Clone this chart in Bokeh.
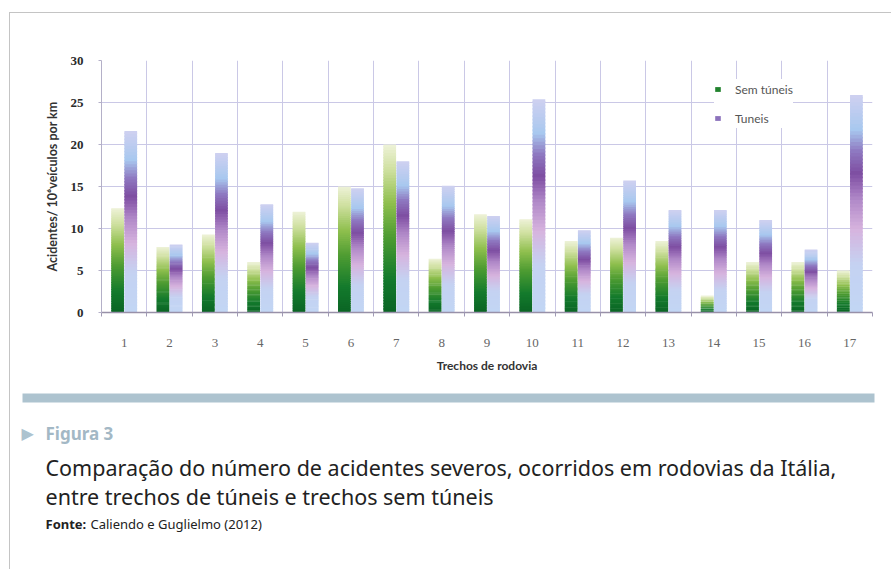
from bokeh.plotting import figure
from bokeh.layouts import column
from bokeh.models import (ColumnDataSource, Range1d, FixedTicker, Legend, LegendItem)
from bokeh.core.properties import value
from bokeh.embed import file_html
from bokeh.resources import INLINE

# ---------------- data ----------------
trechos = list(range(1, 18))
tick_labels = [str(t) for t in trechos]
sem_tuneis = [12.4, 7.8, 9.3, 6.0, 12.0, 15.0, 20.0, 6.4, 11.7, 11.1, 8.5, 8.9, 8.5, 2.0, 6.0, 6.0, 5.0]
tuneis = [21.6, 8.1, 19.0, 12.9, 8.3, 14.8, 18.0, 15.1, 11.5, 25.4, 9.8, 15.7, 12.2, 12.2, 11.0, 7.5, 25.9]
y_ticks = [0, 5, 10, 15, 20, 25, 30]
series_names = ["Sem túneis", "Tuneis"]
y_title = "Acidentes/ 10\u2076veículos por km"
x_title = "Trechos de rodovia"
fig_label = "Figura 3"
caption_lines = ["Comparação do número de acidentes severos, ocorridos em rodovias da Itália,",
                 "entre trechos de túneis e trechos sem túneis"]
source_label = "Fonte:"
source_text = "Caliendo e Guglielmo (2012)"

# ---------------- style ----------------
green_stops = [(0.0, "#0a6424"), (0.2, "#137a2c"), (0.45, "#4e9c32"), (0.65, "#8fbf4e"),
               (0.85, "#cfe0a0"), (1.0, "#eef2d8")]
tunnel_stops = [(0.0, "#c2d6f4"), (0.22, "#c4d2f2"), (0.38, "#d7b4de"), (0.52, "#b088c8"),
                (0.64, "#7e4ea2"), (0.74, "#8e78c0"), (0.84, "#a8c8ef"), (1.0, "#cfd0f0")]
NSEG = 60
BAR_W = 0.28
OFFSET = 0.145


def hex2rgb(h):
    h = h.lstrip("#")
    return tuple(int(h[i:i + 2], 16) for i in (0, 2, 4))


def ramp(stops, t):
    for (t0, c0), (t1, c1) in zip(stops[:-1], stops[1:]):
        if t0 <= t <= t1:
            f = (t - t0) / (t1 - t0) if t1 > t0 else 0
            a, b = hex2rgb(c0), hex2rgb(c1)
            r = [round(a[i] + (b[i] - a[i]) * f) for i in range(3)]
            return "#%02x%02x%02x" % tuple(r)
    return stops[-1][1]


def segments(values, offset, stops):
    xs, bots, tops, cols = [], [], [], []
    for cat, v in zip(trechos, values):
        for k in range(NSEG):
            xs.append(cat + offset)
            bots.append(v * k / NSEG)
            tops.append(v * (k + 1) / NSEG + (v * 0.5 / NSEG if k < NSEG - 1 else 0))
            cols.append(ramp(stops, (k + 0.5) / NSEG))
    return ColumnDataSource(dict(x=xs, bottom=bots, top=tops, color=cols))


# ---------------- chart ----------------
p = figure(width=881, height=372, output_backend="svg", toolbar_location=None,
           x_range=Range1d(0.5, 17.5), y_range=Range1d(0, 30),
           min_border_left=91, min_border_right=19, min_border_top=47, min_border_bottom=73)
p.frame_align = False
p.background_fill_color = "white"
p.border_fill_color = "white"
p.outline_line_color = None

r_g = p.vbar(x="x", bottom="bottom", top="top", width=BAR_W, fill_color="color", line_color=None,
             source=segments(sem_tuneis, -OFFSET, green_stops))
r_t = p.vbar(x="x", bottom="bottom", top="top", width=BAR_W, fill_color="color", line_color=None,
             source=segments(tuneis, OFFSET, tunnel_stops))

legend = Legend(items=[LegendItem(label=series_names[0], renderers=[r_g], index=int(0.25 * NSEG)),
                       LegendItem(label=series_names[1], renderers=[r_t], index=int(0.72 * NSEG))],
                location=(613, 184), background_fill_color="white", background_fill_alpha=1,
                border_line_color=None, padding=16, margin=0, spacing=9,
                glyph_width=7, glyph_height=6, label_standoff=14, label_height=20,
                label_text_font="Lato", label_text_font_size="12px", label_text_color="#555555")
p.add_layout(legend, "center")

p.xaxis.ticker = FixedTicker(ticks=trechos, minor_ticks=[t - 0.5 for t in trechos] + [17.5])
p.xaxis.major_label_overrides = {t: l for t, l in zip(trechos, tick_labels)}
p.xaxis.major_tick_line_color = None
p.xaxis.major_tick_out = 0
p.xaxis.minor_tick_out = 4
p.xaxis.minor_tick_in = 0
p.xaxis.minor_tick_line_color = "#a09ab4"
p.xaxis.axis_line_color = "#9890a8"
p.xaxis.axis_line_width = 1.5
p.xaxis.major_label_standoff = 22
p.xaxis.major_label_text_font = "Liberation Serif"
p.xaxis.major_label_text_font_size = "13px"
p.xaxis.major_label_text_color = "#666666"
p.xaxis.axis_label = x_title
p.xaxis.axis_label_text_font = "Lato"
p.xaxis.axis_label_text_font_style = "bold"
p.xaxis.axis_label_text_font_size = "12px"
p.xaxis.axis_label_text_color = "#333333"
p.xaxis.axis_label_standoff = 8

p.yaxis.ticker = FixedTicker(ticks=y_ticks)
p.yaxis.axis_line_color = "#b4b0c8"
p.yaxis.major_tick_line_color = "#b4b0c8"
p.yaxis.major_tick_out = 3
p.yaxis.major_tick_in = 0
p.yaxis.minor_tick_line_color = None
p.yaxis.major_label_standoff = 15
p.yaxis.major_label_text_font = "Liberation Serif"
p.yaxis.major_label_text_font_style = "bold"
p.yaxis.major_label_text_font_size = "13px"
p.yaxis.major_label_text_color = "#2a2a2a"
p.yaxis.axis_label = y_title
p.yaxis.axis_label_text_font = "Lato"
p.yaxis.axis_label_text_font_style = "bold"
p.yaxis.axis_label_text_font_size = "12.5px"
p.yaxis.axis_label_text_color = "#333333"
p.yaxis.axis_label_standoff = 8

p.xgrid.ticker = FixedTicker(ticks=[t - 0.5 for t in trechos] + [17.5])
p.xgrid.grid_line_color = "#cac8e6"
p.ygrid.grid_line_color = "#cac8e6"

# ---------------- caption panel ----------------
CW, CH = 881, 184
c = figure(width=CW, height=CH, output_backend="svg", toolbar_location=None,
           x_range=Range1d(0, CW), y_range=Range1d(CH, 0),
           x_axis_type=None, y_axis_type=None,
           min_border=0, min_border_left=0, min_border_right=0, min_border_top=0, min_border_bottom=0)
c.frame_align = False
c.grid.visible = False
c.outline_line_color = None
c.background_fill_color = "white"
c.border_fill_color = "white"

c.quad(left=[12], right=[864], top=[8], bottom=[17], fill_color="#adc3cf", line_color=None)
c.text(x=[11], y=[48], text=["\u25B6"], text_font=value("DejaVu Sans"), text_font_size="16px",
       text_color="#adc3cf", text_baseline="middle")
c.text(x=[35], y=[48], text=[fig_label], text_font=value("Noto Sans"), text_font_style="bold",
       text_font_size="17px", text_color="#a3b8c5", text_baseline="middle")
c.text(x=[35, 35], y=[82, 111], text=caption_lines, text_font=value("Noto Sans"),
       text_font_size="21.5px", text_color="#222222", text_baseline="middle")
c.text(x=[35], y=[138], text=[source_label], text_font=value("Noto Sans"), text_font_style="bold",
       text_font_size="13px", text_color="#222222", text_baseline="middle")
c.text(x=[80], y=[138], text=[source_text], text_font=value("Noto Sans"),
       text_font_size="13px", text_color="#222222", text_baseline="middle")

layout = column(p, c, spacing=0, margin=(12, 0, 0, 9),
                styles={"border-top": "1px solid #c4c4c4", "border-left": "1px solid #c4c4c4",
                        "background-color": "white"})

open("out.html", "w").write(file_html(layout, INLINE))
